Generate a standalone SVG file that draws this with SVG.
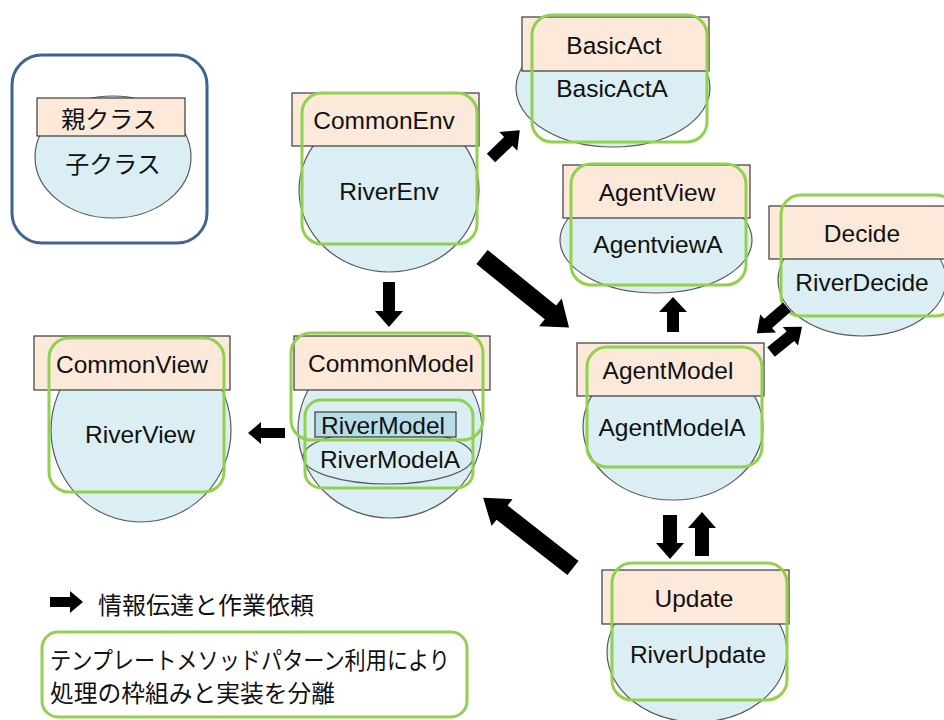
<svg xmlns="http://www.w3.org/2000/svg" width="944" height="720" viewBox="0 0 944 720">
<style>
.par{fill:#fde9d9;stroke:#3a3a3a;stroke-width:1.2}
.chi{fill:#daeef3;stroke:#595959;stroke-width:1.2}
.inn{fill:#b7dde8;stroke:#3a3a3a;stroke-width:1.2}
.grn{fill:none;stroke:#92d050;stroke-width:3}
.t{font-family:"Liberation Sans",Arial,sans-serif;font-size:24.5px;fill:#111;text-anchor:middle;dominant-baseline:central}
.j{font-family:"Noto Sans CJK JP","Noto Sans",sans-serif;font-size:24px;fill:#111}
.arr{fill:#000}
</style>
<rect width="944" height="720" fill="#fff"/>

<g id="legend-class">
<rect x="12" y="55" width="195" height="188" rx="30" fill="#fff" stroke="#3f6391" stroke-width="3"/>
<ellipse class="chi" cx="113" cy="157" rx="78" ry="61"/>
<rect class="par" x="37" y="98" width="148" height="38"/>
<text class="j" x="109" y="117" text-anchor="middle" dominant-baseline="central">親クラス</text>
<text class="j" x="113" y="162" text-anchor="middle" dominant-baseline="central">子クラス</text>
</g>

<g id="CommonEnv">
<ellipse class="chi" cx="389" cy="190" rx="90" ry="82"/>
<rect class="par" x="292" y="93" width="187" height="53"/>
<rect class="grn" x="302" y="93" width="175" height="151" rx="20"/>
<text class="t" x="384" y="120">CommonEnv</text>
<text class="t" x="389" y="191">RiverEnv</text>
</g>

<g id="BasicAct">
<ellipse class="chi" cx="613" cy="88" rx="97" ry="59"/>
<rect class="par" x="522" y="17" width="187" height="54"/>
<rect class="grn" x="532" y="15" width="175" height="127" rx="20"/>
<text class="t" x="614" y="45">BasicAct</text>
<text class="t" x="612" y="88">BasicActA</text>
</g>

<g id="AgentView">
<ellipse class="chi" cx="656" cy="240" rx="96" ry="53"/>
<rect class="par" x="563" y="165" width="187" height="53"/>
<rect class="grn" x="571" y="164" width="175" height="121" rx="20"/>
<text class="t" x="657" y="192">AgentView</text>
<text class="t" x="658" y="244">AgentviewA</text>
</g>

<g id="Decide">
<ellipse class="chi" cx="862" cy="280" rx="84" ry="56"/>
<rect class="par" x="769" y="206" width="187" height="53"/>
<rect class="grn" x="781" y="195" width="175" height="121" rx="20"/>
<text class="t" x="862" y="233">Decide</text>
<text class="t" x="862" y="282">RiverDecide</text>
</g>

<g id="AgentModel">
<ellipse class="chi" cx="673" cy="427" rx="90" ry="73"/>
<rect class="par" x="577" y="343" width="187" height="53"/>
<rect class="grn" x="587" y="347" width="175" height="120" rx="20"/>
<text class="t" x="668" y="370">AgentModel</text>
<text class="t" x="672" y="427">AgentModelA</text>
</g>

<g id="CommonModel">
<ellipse class="chi" cx="390" cy="430" rx="92" ry="88"/>
<rect class="par" x="294" y="336" width="196" height="54"/>
<ellipse class="chi" cx="388" cy="457" rx="85" ry="27"/>
<rect class="grn" x="291" y="333" width="192" height="107" rx="20"/>
<rect class="inn" x="315" y="412" width="141" height="25"/>
<rect class="grn" x="305" y="400" width="168" height="88" rx="16"/>
<text class="t" x="391" y="363">CommonModel</text>
<text class="t" x="383" y="425">RiverModel</text>
<text class="t" x="390" y="459">RiverModelA</text>
</g>

<g id="CommonView">
<ellipse class="chi" cx="141" cy="430" rx="90" ry="92"/>
<rect class="par" x="34" y="336" width="196" height="54"/>
<rect class="grn" x="49" y="338" width="175" height="154" rx="20"/>
<text class="t" x="132" y="364">CommonView</text>
<text class="t" x="140" y="434">RiverView</text>
</g>

<g id="Update">
<ellipse class="chi" cx="697" cy="652" rx="90" ry="70"/>
<rect class="par" x="602" y="570" width="187" height="54"/>
<rect class="grn" x="612" y="563" width="175" height="137" rx="20"/>
<text class="t" x="694" y="598">Update</text>
<text class="t" x="698" y="654">RiverUpdate</text>
</g>

<g id="connectors">
<polygon class="arr" transform="translate(491,158) rotate(-44)" points="0,-6 24,-6 24,-13 40,0 24,13 24,6 0,6"/>
<polygon class="arr" transform="translate(482,257) rotate(39)" points="0,-9 88,-9 88,-18 112,0 88,18 88,9 0,9"/>
<polygon class="arr" transform="translate(389,282) rotate(90)" points="0,-6 29,-6 29,-14 45,0 29,14 29,6 0,6"/>
<polygon class="arr" transform="translate(285,433) rotate(180)" points="0,-5 24,-5 24,-11 37,0 24,11 24,5 0,5"/>
<polygon class="arr" transform="translate(573,568) rotate(-142)" points="0,-9 90,-9 90,-17 114,0 90,17 90,9 0,9"/>
<polygon class="arr" transform="translate(673,332) rotate(-90)" points="0,-6 20,-6 20,-14 35,0 20,14 20,6 0,6"/>
<polygon class="arr" transform="translate(787,307) rotate(139)" points="0,-6 25,-6 25,-12 40,0 25,12 25,6 0,6"/>
<polygon class="arr" transform="translate(771,352) rotate(-39)" points="0,-6 25,-6 25,-12 40,0 25,12 25,6 0,6"/>
<polygon class="arr" transform="translate(670,515) rotate(90)" points="0,-7 28,-7 28,-14 44,0 28,14 28,7 0,7"/>
<polygon class="arr" transform="translate(702,556) rotate(-90)" points="0,-7 28,-7 28,-14 44,0 28,14 28,7 0,7"/>
</g>

<g id="legend-arrow">
<polygon class="arr" points="50,597 70,597 70,591 83,602 70,613 70,607 50,607"/>
<text class="j" x="98" y="603" dominant-baseline="central">情報伝達と作業依頼</text>
</g>

<g id="legend-template">
<rect x="42" y="632" width="425" height="85" rx="16" fill="#fff" stroke="#92d050" stroke-width="3"/>
<text class="j" x="50" y="658" dominant-baseline="central" font-size="19" textLength="400" lengthAdjust="spacingAndGlyphs">テンプレートメソッドパターン利用により</text>
<text class="j" x="50" y="691" dominant-baseline="central" font-size="19" textLength="285" lengthAdjust="spacingAndGlyphs">処理の枠組みと実装を分離</text>
</g>
</svg>
